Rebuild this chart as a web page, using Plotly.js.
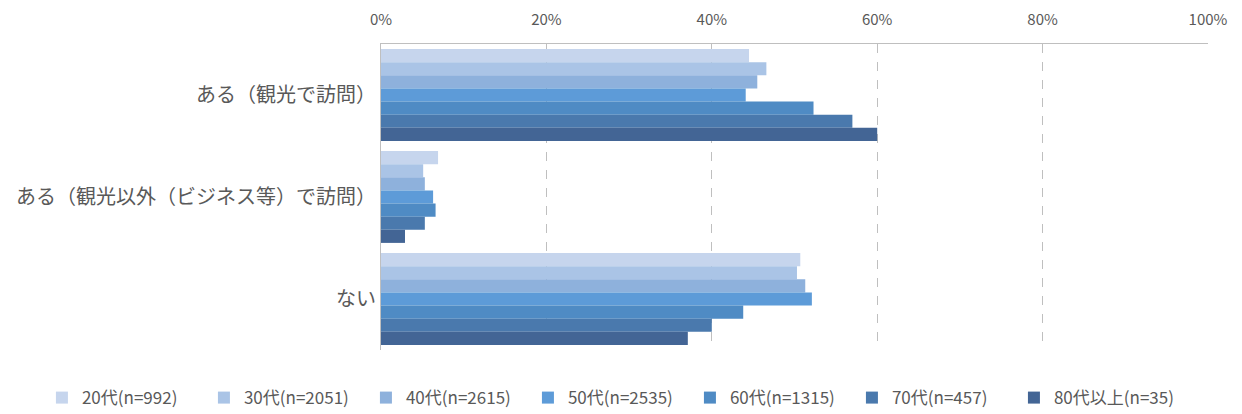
<!DOCTYPE html>
<html><head><meta charset="utf-8">
<script src="https://cdn.plot.ly/plotly-3.0.1.min.js"></script>
<style>html,body{margin:0;padding:0;background:#fff;}#chart{width:1242px;height:414px;}</style>
</head><body><div id="chart"></div>
<script>
const categories = ["ある（観光で訪問）", "ある（観光以外（ビジネス等）で訪問）", "ない"];
const seriesNames = ["20代(n=992)", "30代(n=2051)", "40代(n=2615)", "50代(n=2535)", "60代(n=1315)", "70代(n=457)", "80代以上(n=35)"];
const v20 = [44.5, 6.9, 50.7];
const v30 = [46.6, 5.1, 50.3];
const v40 = [45.5, 5.3, 51.3];
const v50 = [44.1, 6.3, 52.1];
const v60 = [52.3, 6.6, 43.8];
const v70 = [57.0, 5.3, 40.0];
const v80 = [60.0, 2.9, 37.1];
const seriesValues = [v20, v30, v40, v50, v60, v70, v80];
const colors = ["#c6d5ed", "#aac4e6", "#8eb1dc", "#5d9bd8", "#4f8bc4", "#4a79ad", "#436595"];
const tickVals = [0, 20, 40, 60, 80, 100];
const tickText = ["0%", "20%", "40%", "60%", "80%", "100%"];

const font = "'Noto Sans CJK JP', 'Noto Sans', sans-serif";
const traces = seriesValues.map((vals, i) => ({
  type: "bar", orientation: "h",
  name: seriesNames[i], x: vals, y: categories,
  marker: {color: colors[i], line: {width: 0}},
  hoverinfo: "x+name"
}));

const layout = {
  width: 1242, height: 414,
  margin: {l: 381, r: 34, t: 44, b: 64, autoexpand: false},
  paper_bgcolor: "#fff", plot_bgcolor: "#fff",
  barmode: "group", bargap: 0.1, bargroupgap: 0,
  font: {family: font, color: "#595959", size: 16},
  showlegend: true,
  legend: {orientation: "h", x: -0.41, xanchor: "left", y: -0.157, yanchor: "middle",
           font: {size: 17, color: "#595959"}, traceorder: "normal", itemwidth: 30,
           entrywidth: 117, entrywidthmode: "pixels", tracegroupgap: 0},
  xaxis: {side: "top", range: [0, 100], tickvals: tickVals, ticktext: tickText,
          showgrid: true, gridcolor: "#bfbfbf", griddash: "dash", gridwidth: 1,
          showline: true, linecolor: "#bfbfbf", linewidth: 1, zeroline: false,
          ticks: "", ticklabelstandoff: 12, tickfont: {size: 15, color: "#595959"}, fixedrange: true},
  yaxis: {autorange: "reversed", showline: true, linecolor: "#bfbfbf", linewidth: 1,
          ticks: "", ticklen: 0, ticklabelstandoff: 0, tickfont: {size: 20, color: "#595959"}, showgrid: false,
          automargin: false, fixedrange: true}
};
Plotly.newPlot("chart", traces, layout, {displayModeBar: false, staticPlot: true});
</script></body></html>
